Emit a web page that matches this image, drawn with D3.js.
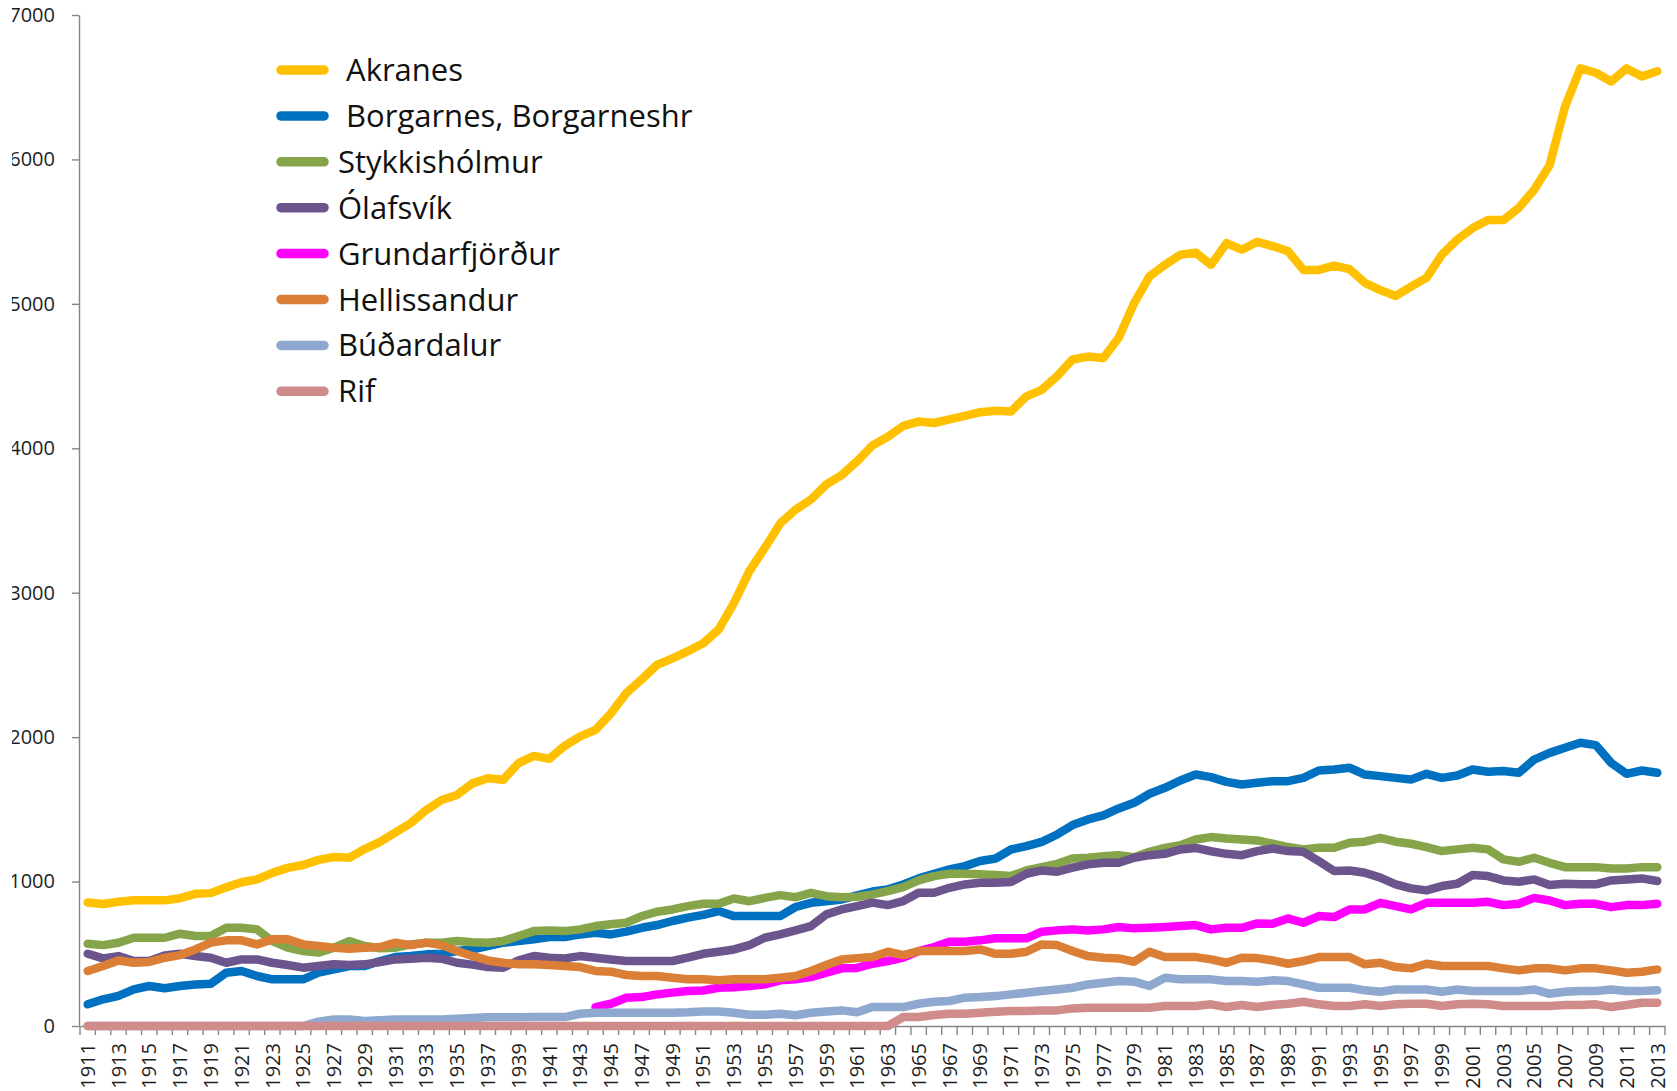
<!DOCTYPE html>
<html>
<head>
<meta charset="utf-8">
<script src="https://cdn.jsdelivr.net/npm/d3@7/dist/d3.min.js"></script>
<style>
  html, body { margin: 0; padding: 0; background: #fff; }
  svg { display: block; font-family: "Open Sans", sans-serif; }
</style>
</head>
<body>
<div id="chart"></div>
<script>
// categories: one per year, 1911..2013
const years = d3.range(1911, 2014);

const names = [' Akranes', ' Borgarnes, Borgarneshr', 'Stykkishólmur', 'Ólafsvík',
  'Grundarfjörður', 'Hellissandur', 'Búðardalur', 'Rif'];
const colors = ['#ffc000', '#0070c0', '#86a44a', '#6c548c', '#ff00ff', '#dc7f36', '#8fa8cf', '#d08b8b'];
const yTicks = [0, 1000, 2000, 3000, 4000, 5000, 6000, 7000];

// rows: 1911-1920, 1921-1930, ... 2001-2010, 2011-2013
const akranes = [
  855, 845, 860, 870, 870, 870, 885, 915, 920, 960,
  995, 1015, 1060, 1095, 1115, 1150, 1170, 1165, 1225, 1275,
  1340, 1405, 1495, 1565, 1600, 1680, 1715, 1705, 1820, 1870,
  1850, 1940, 2005, 2050, 2165, 2305, 2400, 2500, 2545, 2595,
  2650, 2745, 2930, 3150, 3310, 3480, 3575, 3645, 3750, 3815,
  3910, 4020, 4080, 4155, 4185, 4175, 4200, 4225, 4250, 4260,
  4255, 4360, 4405, 4500, 4615, 4635, 4625, 4765, 5005, 5190,
  5270, 5340, 5355, 5270, 5420, 5375, 5430, 5400, 5365, 5235,
  5235, 5265, 5240, 5145, 5095, 5055, 5120, 5180, 5340, 5445,
  5525, 5580, 5580, 5665, 5790, 5960, 6365, 6630, 6600, 6540,
  6630, 6575, 6610
];
const borgarnes = [
  150, 185, 208, 254, 277, 261, 277, 288, 293, 369,
  381, 346, 323, 323, 323, 369, 392, 415, 415, 450,
  477, 484, 496, 500, 519, 530, 554, 577, 588, 600,
  616, 616, 634, 646, 634, 653, 680, 699, 727, 750,
  769, 796, 761, 761, 761, 761, 824, 853, 864, 876,
  905, 931, 946, 980, 1022, 1054, 1084, 1107, 1142, 1160,
  1222, 1245, 1275, 1326, 1391, 1430, 1458, 1506, 1545, 1608,
  1649, 1700, 1741, 1723, 1690, 1672, 1684, 1695, 1695, 1718,
  1769, 1776, 1788, 1741, 1730, 1718, 1707, 1746, 1718, 1734,
  1776, 1760, 1765, 1753, 1845, 1891, 1926, 1961, 1945, 1822,
  1746, 1769, 1753
];
const stykkisholmur = [
  570, 560, 576, 611, 611, 611, 639, 623, 623, 680,
  680, 669, 588, 542, 519, 508, 542, 588, 554, 538,
  542, 565, 576, 576, 588, 580, 577, 588, 623, 657,
  662, 657, 669, 692, 704, 715, 761, 791, 807, 830,
  846, 846, 883, 864, 887, 906, 892, 922, 899, 892,
  895, 911, 934, 962, 1008, 1038, 1054, 1054, 1050, 1045,
  1038, 1077, 1100, 1123, 1160, 1165, 1176, 1183, 1169, 1206,
  1233, 1252, 1291, 1308, 1298, 1291, 1285, 1262, 1239, 1223,
  1234, 1234, 1269, 1276, 1303, 1276, 1262, 1239, 1211, 1223,
  1234, 1223, 1154, 1137, 1165, 1130, 1100, 1100, 1100, 1091,
  1091, 1100, 1100
];
const olafsvik = [
  500, 468, 484, 450, 450, 489, 500, 484, 473, 438,
  461, 461, 438, 422, 404, 415, 427, 422, 427, 443,
  461, 466, 473, 466, 438, 425, 408, 404, 454, 484,
  473, 468, 484, 473, 461, 450, 450, 450, 450, 473,
  500, 514, 530, 560, 611, 634, 662, 692, 773, 807,
  830, 854, 837, 865, 923, 923, 957, 980, 992, 992,
  997, 1054, 1077, 1068, 1096, 1119, 1130, 1130, 1165, 1183,
  1192, 1222, 1233, 1210, 1192, 1183, 1211, 1229, 1211, 1206,
  1142, 1073, 1077, 1061, 1027, 981, 953, 939, 969, 985,
  1045, 1038, 1008, 999, 1015, 976, 985, 981, 981, 1008,
  1015, 1022, 1004
];
const grundarfjordur = [
  null, null, null, null, null, null, null, null, null, null,
  null, null, null, null, null, null, null, null, null, null,
  null, null, null, null, null, null, null, null, null, null,
  null, null, null, 131, 154, 196, 200, 219, 231, 242,
  246, 265, 269, 277, 288, 316, 323, 339, 369, 399,
  402, 431, 450, 473, 519, 547, 584, 584, 593, 607,
  607, 607, 653, 662, 669, 662, 669, 685, 676, 680,
  685, 692, 699, 669, 680, 680, 710, 708, 745, 715,
  761, 754, 807, 807, 853, 830, 807, 853, 853, 853,
  853, 860, 837, 846, 887, 869, 837, 846, 846, 823,
  837, 837, 846
];
const hellissandur = [
  381, 415, 454, 438, 443, 473, 491, 530, 577, 593,
  593, 565, 600, 600, 565, 554, 542, 535, 542, 547,
  577, 560, 577, 560, 519, 485, 454, 438, 427, 427,
  422, 415, 408, 381, 376, 353, 346, 346, 334, 323,
  323, 316, 323, 323, 323, 334, 346, 381, 422, 461,
  470, 477, 514, 491, 519, 519, 519, 519, 530, 500,
  500, 514, 565, 560, 519, 484, 473, 468, 445, 514,
  477, 477, 477, 461, 438, 473, 470, 454, 431, 450,
  477, 477, 477, 427, 438, 408, 399, 431, 415, 415,
  415, 415, 399, 385, 399, 399, 385, 399, 399, 385,
  369, 376, 392
];
const budardalur = [
  0, 0, 0, 0, 0, 0, 0, 0, 0, 0,
  0, 0, 0, 0, 0, 30, 45, 45, 35, 40,
  45, 45, 45, 45, 50, 55, 60, 60, 60, 62,
  62, 62, 85, 92, 92, 92, 92, 92, 92, 95,
  101, 101, 92, 78, 78, 85, 74, 92, 101, 108,
  95, 131, 131, 131, 154, 168, 173, 196, 200, 207,
  219, 230, 242, 253, 265, 288, 300, 311, 307, 277,
  334, 323, 323, 323, 311, 311, 307, 316, 311, 288,
  265, 265, 265, 247, 237, 253, 253, 253, 237, 253,
  242, 242, 242, 242, 253, 223, 237, 242, 242, 253,
  242, 242, 247
];
const rif = [
  0, 0, 0, 0, 0, 0, 0, 0, 0, 0,
  0, 0, 0, 0, 0, 0, 0, 0, 0, 0,
  0, 0, 0, 0, 0, 0, 0, 0, 0, 0,
  0, 0, 0, 0, 0, 0, 0, 0, 0, 0,
  0, 0, 0, 0, 0, 0, 0, 0, 0, 0,
  0, 0, 0, 62, 62, 76, 85, 85, 92, 99,
  104, 104, 108, 108, 122, 127, 127, 127, 127, 127,
  138, 138, 138, 150, 131, 145, 131, 145, 154, 168,
  150, 138, 138, 150, 138, 150, 154, 154, 138, 150,
  154, 150, 138, 138, 138, 138, 145, 145, 150, 131,
  145, 161, 161
];

const seriesValues = [akranes, borgarnes, stykkisholmur, olafsvik,
  grundarfjordur, hellissandur, budardalur, rif];

const width = 1677, height = 1091;
const plotLeft = 80, plotRight = 1665, plotTop = 15, plotBottom = 1026;

const svg = d3.select('#chart').append('svg')
  .attr('width', width)
  .attr('height', height);

const x = d3.scaleBand().domain(years).range([plotLeft, plotRight]).padding(0);
const y = d3.scaleLinear().domain([0, 7000]).range([plotBottom, plotTop]);
const cx = d => x(d) + x.bandwidth() / 2;

// the left edge of the picture cuts into the first digit of the y labels
svg.append('clipPath').attr('id', 'yclip')
  .append('rect').attr('x', 12).attr('y', 0).attr('width', 200).attr('height', height);

const yAxis = svg.append('g')
  .attr('clip-path', 'url(#yclip)')
  .append('g')
  .attr('transform', `translate(${plotLeft - 1},0)`)
  .call(d3.axisLeft(y).tickValues(yTicks).tickFormat(d3.format('d'))
    .tickSize(7).tickSizeOuter(0).tickPadding(17));
yAxis.select('.domain').attr('stroke', '#868686').attr('stroke-width', 1.4);
yAxis.selectAll('.tick line').attr('stroke', '#868686').attr('stroke-width', 1.4);
yAxis.selectAll('text').attr('font-size', 20).attr('fill', '#1e1e1e')
  .attr('font-family', '"Open Sans", sans-serif');

// x axis: labels on odd years, tick marks on category boundaries
const xAxis = svg.append('g')
  .attr('transform', `translate(0,${plotBottom})`)
  .call(d3.axisBottom(x).tickValues(years.filter(d => (d - 1911) % 2 === 0)).tickSize(0).tickSizeOuter(0));
xAxis.select('.domain').attr('stroke', '#868686').attr('stroke-width', 1.4);
xAxis.selectAll('text')
  .attr('font-size', 20).attr('fill', '#1e1e1e')
  .attr('font-family', '"Open Sans", sans-serif')
  .attr('transform', 'rotate(-90)')
  .attr('text-anchor', 'end')
  .attr('x', -17).attr('y', 0).attr('dy', '0.36em');

xAxis.selectAll('.boundary')
  .data(years.concat([null]))
  .enter().append('line')
  .attr('class', 'boundary')
  .attr('x1', d => d === null ? plotRight : x(d))
  .attr('x2', d => d === null ? plotRight : x(d))
  .attr('y1', 0).attr('y2', 9)
  .attr('stroke', '#868686').attr('stroke-width', 1.4);

const line = d3.line()
  .defined(d => d.v !== null)
  .x(d => cx(d.year))
  .y(d => y(d.v));

svg.append('g').selectAll('path')
  .data(seriesValues)
  .enter().append('path')
  .attr('d', vals => line(years.map((yr, i) => ({ year: yr, v: vals[i] }))))
  .attr('fill', 'none')
  .attr('stroke', (d, i) => colors[i])
  .attr('stroke-width', 8.5)
  .attr('stroke-linejoin', 'round')
  .attr('stroke-linecap', 'round');

// legend
const legend = svg.append('g').selectAll('g')
  .data(names)
  .enter().append('g')
  .attr('transform', (d, i) => `translate(0,${70 + i * 45.9})`);

legend.append('line')
  .attr('x1', 281).attr('x2', 324)
  .attr('stroke', (d, i) => colors[i])
  .attr('stroke-width', 9.5)
  .attr('stroke-linecap', 'round');

legend.append('text')
  .attr('x', 338).attr('y', 11)
  .style('white-space', 'pre')
  .attr('font-size', 31)
  .attr('fill', '#111')
  .text(d => d);
</script>
</body>
</html>
